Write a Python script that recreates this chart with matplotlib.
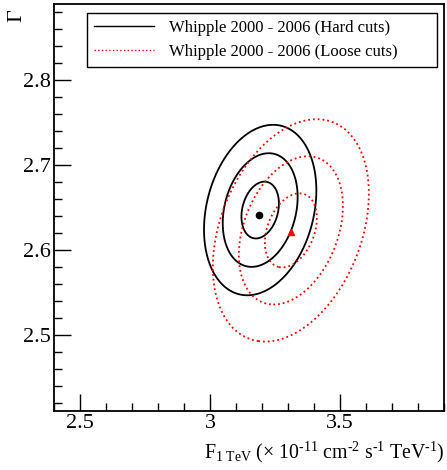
import numpy as np
import matplotlib
matplotlib.use('Agg')
import matplotlib.pyplot as plt
from matplotlib.lines import Line2D
from matplotlib.ticker import MultipleLocator, FormatStrFormatter

# Amostras (legenda)
amostras = ['Whipple 2000 - 2006 (Hard cuts)', 'Whipple 2000 - 2006 (Loose cuts)']

# Melhor ajuste: fluxo a 1 TeV e indice espectral
fluxo = [3.19, 3.31]
indice = [2.641, 2.621]

# Centro, larguras e correlacao dos contornos
centro_fluxo = [3.193, 3.311]
centro_indice = [2.647, 2.623]
sigma_fluxo = [0.072, 0.100]
sigma_indice = [0.0335, 0.0437]
correlacao = [0.23, 0.33]

# Niveis de delta chi2 (1, 2 e 3 sigma)
niveis = [1, 4, 9]


def main():
    plt.rcParams['font.family'] = ['Liberation Serif', 'DejaVu Serif']
    plt.rcParams['mathtext.fontset'] = 'custom'
    plt.rcParams['mathtext.rm'] = 'Liberation Serif'
    plt.rcParams['mathtext.it'] = 'Liberation Serif:italic'

    fig = plt.figure(figsize=(4.47, 4.70), dpi=100)
    ax = fig.add_axes([0.1208, 0.1255, 0.8725, 0.866])

    estilos = [dict(colors='black', linestyles='solid', linewidths=1.3),
               dict(colors='red', linestyles='dotted', linewidths=1.3)]
    marcadores = [dict(marker='o', color='black', markersize=4.5),
                  dict(marker='^', color='red', markersize=4.5)]

    # Grade para calcular o chi2 de cada amostra
    xx, yy = np.meshgrid(np.linspace(2.4, 3.9, 600), np.linspace(2.41, 2.89, 600))
    for i in range(len(amostras)):
        dx = (xx - centro_fluxo[i]) / sigma_fluxo[i]
        dy = (yy - centro_indice[i]) / sigma_indice[i]
        r = correlacao[i]
        chi2 = (dx**2 - 2 * r * dx * dy + dy**2) / (1 - r**2)
        ax.contour(xx, yy, chi2, levels=niveis, **estilos[i])
        ax.plot(fluxo[i], indice[i], linestyle='none', **marcadores[i])

    ax.set_xlim(2.4, 3.9)
    ax.set_ylim(2.41, 2.89)

    ax.xaxis.set_major_locator(MultipleLocator(0.5))
    ax.xaxis.set_minor_locator(MultipleLocator(0.1))
    ax.yaxis.set_major_locator(MultipleLocator(0.1))
    ax.yaxis.set_minor_locator(MultipleLocator(0.02))
    ax.xaxis.set_major_formatter(FormatStrFormatter('%g'))
    ax.yaxis.set_major_formatter(FormatStrFormatter('%g'))
    ax.tick_params(which='both', direction='in', top=False, right=False,
                   labelsize=16, pad=2)
    ax.tick_params(which='major', length=12, width=1)
    ax.tick_params(which='minor', length=6, width=1)
    for lado in ax.spines.values():
        lado.set_linewidth(1.3)

    ax.set_xlabel(r'F$_{\rm 1\ TeV}$ ($\times$ 10$^{\text{-11}}$ cm$^{\text{-2}}$ '
                  r's$^{\text{-1}}$ TeV$^{\text{-1}}$)',
                  fontsize=14.3, loc='right', labelpad=5)
    ax.set_ylabel('Γ', fontsize=16, loc='top')
    ax.yaxis.set_label_coords(-0.072, 0.988)

    # Legenda
    linhas = [Line2D([], [], color='black', linewidth=1.0),
              Line2D([], [], color='red', linestyle='dotted', linewidth=1.0)]
    ax.legend(linhas, amostras, loc='upper left',
              bbox_to_anchor=(0.085, 0.978, 0.897, 0.0), mode='expand',
              fontsize=12, frameon=True, fancybox=False, edgecolor='black',
              framealpha=1, borderpad=0.4, labelspacing=0.5,
              handlelength=3.6, handletextpad=0.9, borderaxespad=0)
    ax.get_legend().get_frame().set_linewidth(1.0)

    fig.savefig('out.png', dpi=100)


if __name__ == '__main__':
    main()
